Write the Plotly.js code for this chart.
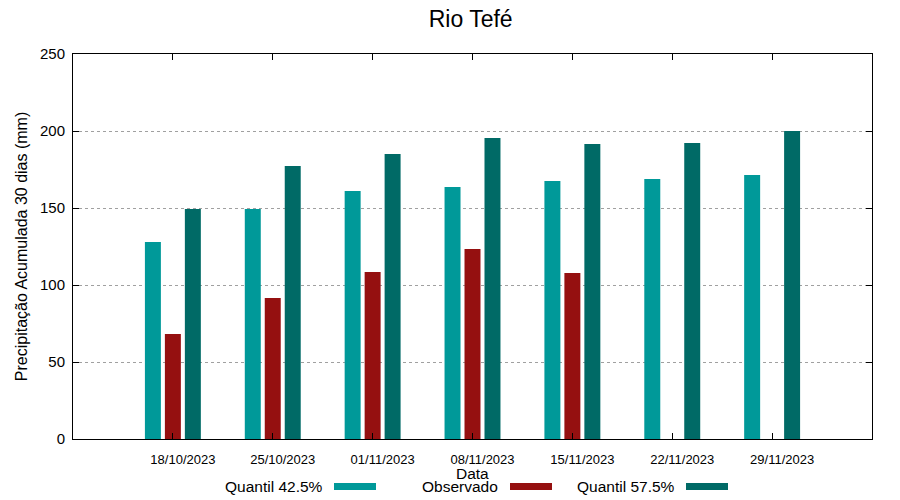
<!DOCTYPE html>
<html>
<head>
<meta charset="utf-8">
<script src="https://cdn.plot.ly/plotly-3.0.1.min.js"></script>
<style>html,body{margin:0;padding:0;background:#fff}#chart{width:900px;height:500px}</style>
</head>
<body>
<div id="chart"></div>
<script>
var dates = ["18/10/2023","25/10/2023","01/11/2023","08/11/2023","15/11/2023","22/11/2023","29/11/2023"];
var idx = [0,1,2,3,4,5,6];
var q425 = [128, 149.3, 161, 163.7, 167.5, 168.8, 171.4];
var observado = [68.2, 91.6, 108.4, 123.3, 107.8, null, null];
var q575 = [149.3, 177.2, 185, 195.5, 191.6, 192.2, 200];
var names = ["Quantil 42.5%", "Observado", "Quantil 57.5%"];
var colors = ["#009999", "#951010", "#006a66"];
var series = [q425, observado, q575];
var offsets = [-0.28, -0.08, 0.12];

var FONT = "Liberation Sans, Arial, sans-serif";
var traces = series.map(function(s, k){
  return {type:"bar", x: idx, y: s, name: names[k], width: 0.16, offset: offsets[k],
          marker:{color: colors[k], line:{width:0}}, showlegend:false, hoverinfo:"skip"};
});

var L = 73, R = 872, T = 54, B = 439;
function px(x){ return (x - L)/(R - L); }
function py(y){ return (B - y)/(B - T); }
var textRight = [325, 500, 677];
var swatch = [[334,376],[510,552],[686,728]];
var annotations = names.map(function(n,k){
  return {text: n, xref:"paper", yref:"paper", x: px(textRight[k]), y: py(486.5),
          xanchor:"right", yanchor:"middle", showarrow:false, font:{family:FONT, size:15.5, color:"#000"}};
});
annotations.push({text:"Data", xref:"paper", yref:"paper", x: px(472), y: py(474),
  xanchor:"center", yanchor:"middle", showarrow:false, font:{family:FONT, size:15.5, color:"#000"}});
var shapes = swatch.map(function(s,k){
  return {type:"rect", xref:"paper", yref:"paper", x0: px(s[0]), x1: px(s[1]), y0: py(490), y1: py(483),
          fillcolor: colors[k], line:{width:0}};
});

var layout = {
  width: 900, height: 500,
  margin: {l: L, r: 900 - R, t: T, b: 500 - B},
  paper_bgcolor: "#fff", plot_bgcolor: "#fff",
  font: {family: FONT, color: "#000"},
  title: {text: "Rio Tefé", font:{family:FONT, size:23, color:"#000"}, x: 0.523, xanchor:"center", y: 0.962, yanchor:"middle", yref:"container"},
  barmode: "overlay",
  showlegend: false,
  xaxis: {range: [-1, 7], tickvals: idx, ticktext: dates, ticks: "inside", ticklen: 6, tickcolor:"#000",
          showline: true, linecolor: "#000", linewidth: 1, mirror: "ticks", showgrid: false, zeroline: false,
          tickfont: {family: FONT, size: 13, color:"#000"}, ticklabelshift: 10, ticklabelstandoff: 8, fixedrange:true},
  yaxis: {range: [0, 250], tickvals: [0,50,100,150,200,250], ticks: "inside", ticklen: 6, tickcolor:"#000",
          showline: true, linecolor: "#000", linewidth: 1, mirror: "ticks",
          showgrid: true, gridcolor: "#a0a0a0", griddash: "dot", gridwidth: 1, zeroline: false,
          tickfont: {family: FONT, size: 15, color:"#000"}, ticklabelstandoff: 4,
          title: {text: "Precipitação Acumulada 30 dias (mm)", font:{family:FONT, size:16, color:"#000"}, standoff: 8}, fixedrange:true},
  annotations: annotations,
  shapes: shapes
};
Plotly.newPlot("chart", traces, layout, {displayModeBar:false, staticPlot:true});
</script>
</body>
</html>
